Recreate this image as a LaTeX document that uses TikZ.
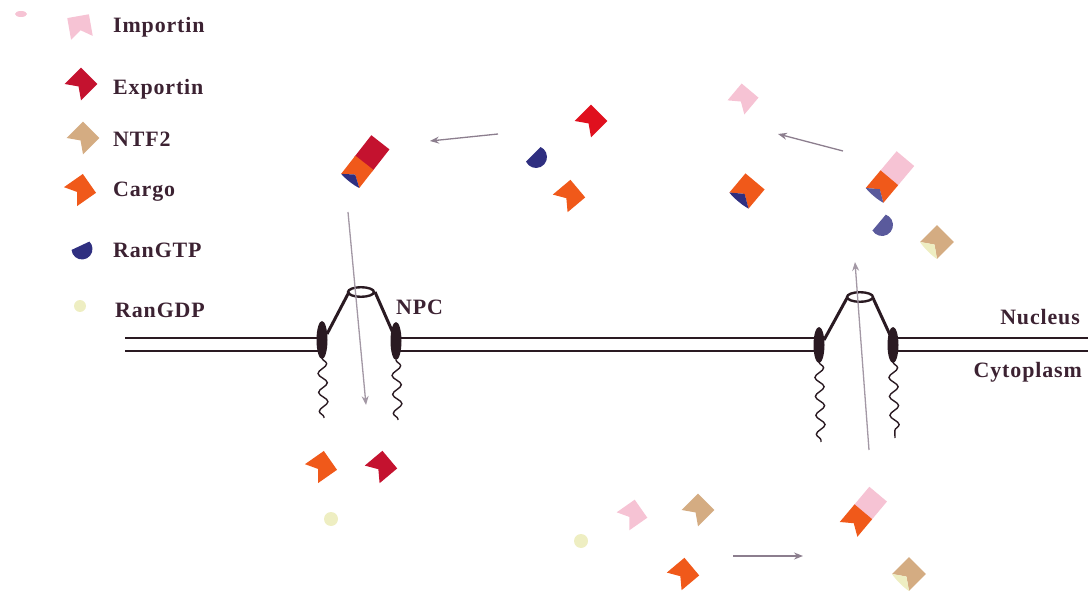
\documentclass[tikz,border=0pt]{standalone}
\usepackage{fontspec}
\usetikzlibrary{arrows.meta,decorations.pathmorphing}
\newfontfamily\lblfont[LetterSpace=4]{Liberation Serif}

\definecolor{impink}{HTML}{F6C3D4}
\definecolor{expred}{HTML}{C4122F}
\definecolor{expbright}{HTML}{E0101E}
\definecolor{ntftan}{HTML}{D4AC82}
\definecolor{cargoor}{HTML}{F0591A}
\definecolor{gtpblue}{HTML}{2F2F80}
\definecolor{gtplight}{HTML}{5A5A9C}
\definecolor{gdpyel}{HTML}{EEEEC2}
\definecolor{txtcol}{HTML}{3C2232}
\definecolor{membcol}{HTML}{2A1A22}
\definecolor{arrcol}{HTML}{8C7E8E}

% protein: square with a V-notch cut into its back side
% args: x, y, angle of the front side, half size, fill style
\newcommand\flagmol[5]{\fill[#5, shift={(#1,#2)}, rotate=#3, scale=#4]
  (1,-1) -- (1,1) -- (-1,1) -- (-0.3,0) -- (-1,-1) -- cycle;}
% partner sitting in the notch of a \flagmol with the same placement
\newcommand\notchmol[5]{\fill[#5, shift={(#1,#2)}, rotate=#3, scale=#4]
  (-1,-1) -- (-0.3,0) -- (-1,1) .. controls (-1.12,0.5) and (-1.12,-0.5) .. (-1,-1) -- cycle;}
% RanGTP: D-shaped half disc, round side towards angle+90
\newcommand\halfmol[5]{\fill[#5, shift={(#1,#2)}, rotate=#3, scale=#4]
  (-20:1) arc[start angle=-20,end angle=200,radius=1] -- cycle;}

\tikzset{
  importin/.style={fill=impink},
  exportin/.style={fill=expred},
  exportinb/.style={fill=expbright},
  ntf/.style={fill=ntftan},
  cargo/.style={fill=cargoor},
  rangtp/.style={fill=gtpblue},
  rangtpl/.style={fill=gtplight},
  rangdp/.style={fill=gdpyel},
  lbl/.style={font=\lblfont\bfseries\fontsize{22}{26}\selectfont, text=txtcol, inner sep=0pt},
  membline/.style={draw=membcol, line width=2.8bp},
  cone/.style={draw=membcol, line width=3bp},
  wiggle/.style={draw=membcol, line width=1.4bp, decorate,
      decoration={snake, amplitude=4.5pt, segment length=19pt}},
  flow/.style={draw=arrcol, line width=1.3bp, -{Stealth[length=9pt,width=7pt]}},
}

\begin{document}
\begin{tikzpicture}[x=1bp,y=1bp]
\useasboundingbox (0,0) rectangle (1088,-595);

% ---------- legend ----------
\fill[impink] (21,-14) ellipse[x radius=6, y radius=3];
\flagmol{80}{-27}{100}{11}{importin}
\flagmol{81}{-84}{45}{11.5}{exportin}
\flagmol{83}{-138}{45}{11.5}{ntf}
\flagmol{80}{-190}{35}{11.5}{cargo}
\halfmol{82}{-249}{-155}{10.5}{rangtp}
\fill[gdpyel] (80,-306) circle[radius=6];

\node[lbl, anchor=base west] (t-imp) at (113,-33) {Importin};
\node[lbl, anchor=base west] (t-exp) at (113,-95) {Exportin};
\node[lbl, anchor=base west] (t-ntf) at (113,-147) {NTF2};
\node[lbl, anchor=base west] (t-car) at (113,-197) {Cargo};
\node[lbl, anchor=base west] (t-gtp) at (113,-258) {RanGTP};
\node[lbl, anchor=base west] (t-gdp) at (115,-318) {RanGDP};

% ---------- nuclear envelope ----------
\draw[membline] (125,-338) -- (322,-338) (125,-351) -- (322,-351);
\draw[membline] (396,-338) -- (819,-338) (396,-351) -- (819,-351);
\draw[membline] (893,-338) -- (1088,-338) (893,-351) -- (1088,-351);

% pore on the left
\fill[membcol] (322,-340) ellipse[x radius=5.5, y radius=19];
\fill[membcol] (396,-341) ellipse[x radius=5.5, y radius=19];
\draw[cone] (327,-334) -- (349,-292);
\draw[cone] (375,-292) -- (393,-333);
\draw[membcol, line width=2.4bp] (361,-292) ellipse[x radius=13, y radius=4.8];
\draw[wiggle] (322,-358) -- (324,-418);
\draw[wiggle] (396,-360) -- (398,-420);

% pore on the right
\fill[membcol] (819,-345) ellipse[x radius=5.5, y radius=18];
\fill[membcol] (893,-345) ellipse[x radius=5.5, y radius=18];
\draw[cone] (824,-340) -- (847,-298);
\draw[cone] (873,-298) -- (890,-335);
\draw[membcol, line width=2.4bp] (860,-297) ellipse[x radius=13, y radius=4.8];
\draw[wiggle] (819,-362) -- (821,-442);
\draw[wiggle] (893,-362) -- (895,-438);

\node[lbl, anchor=base west] (t-npc) at (396,-315) {NPC};
\node[lbl, anchor=base east] (t-nuc) at (1080,-325) {Nucleus};
\node[lbl, anchor=base east] (t-cyt) at (1082,-377) {Cytoplasm};

% ---------- nucleus side ----------
% exportin / cargo / RanGTP complex
\begin{scope}[shift={(365,-162)}, rotate=52]
  \fill[expred] (-3,-11.5) rectangle (25,11.5);
  \flagmol{-12.5}{0}{0}{11.5}{cargo}
  \notchmol{-12.5}{0}{0}{11.5}{rangtp}
\end{scope}

\flagmol{591}{-121}{45}{11.5}{exportinb}
\halfmol{536}{-157}{-135}{11}{rangtp}
\flagmol{569}{-196}{40}{11.5}{cargo}

\flagmol{743}{-99}{50}{11}{importin}

% cargo carrying RanGTP
\flagmol{747}{-191}{50}{12.5}{cargo}
\notchmol{747}{-191}{50}{12.5}{rangtp}

% importin / cargo / RanGTP complex
\begin{scope}[shift={(890,-177)}, rotate=50]
  \fill[impink] (-3,-11.5) rectangle (24,11.5);
  \flagmol{-12.5}{0}{0}{11.5}{cargo}
  \notchmol{-12.5}{0}{0}{11.5}{rangtpl}
\end{scope}

\halfmol{882}{-225}{-130}{11}{rangtpl}

% NTF2 with RanGDP
\flagmol{937}{-242}{45}{12}{ntf}
\notchmol{937}{-242}{45}{12}{rangdp}

% ---------- cytoplasm side ----------
\flagmol{321}{-467}{35}{11.5}{cargo}
\flagmol{381}{-467}{40}{11.5}{exportin}
\fill[gdpyel] (331,-519) circle[radius=7];

\fill[gdpyel] (581,-541) circle[radius=7];
\flagmol{632}{-515}{35}{11}{importin}
\flagmol{698}{-510}{45}{11.5}{ntf}
\flagmol{683}{-574}{40}{11.5}{cargo}

% importin / cargo complex
\begin{scope}[shift={(864,-511)}, rotate=50]
  \fill[impink] (-3,-11.5) rectangle (22,11.5);
  \flagmol{-12.5}{0}{0}{11.5}{cargo}
\end{scope}

% NTF2 with RanGDP
\flagmol{909}{-574}{45}{12}{ntf}
\notchmol{909}{-574}{45}{12}{rangdp}

% ---------- transport arrows ----------
\coordinate (a1s) at (498,-134);  \coordinate (a1e) at (430,-141);
\coordinate (a2s) at (843,-151);  \coordinate (a2e) at (778,-134);
\coordinate (a3s) at (733,-556);  \coordinate (a3e) at (803,-556);
\coordinate (a4s) at (348,-212);  \coordinate (a4e) at (366,-405);
\coordinate (a5s) at (869,-450);  \coordinate (a5e) at (855,-262);
\draw[flow] (a1s) -- (a1e);
\draw[flow] (a2s) -- (a2e);
\draw[flow] (a3s) -- (a3e);
\draw[flow, draw=arrcol!80] (a4s) -- (a4e);
\draw[flow, draw=arrcol!80] (a5s) -- (a5e);

\end{tikzpicture}
\end{document}
